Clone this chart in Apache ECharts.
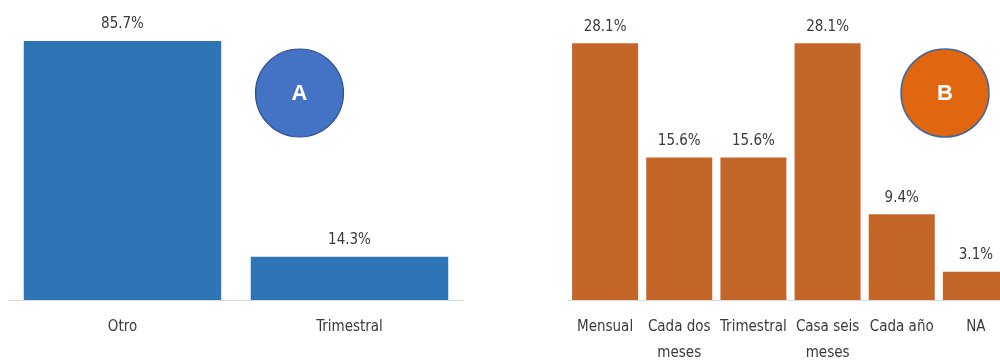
<!DOCTYPE html>
<html>
<head>
<meta charset="utf-8">
<script src="https://cdn.jsdelivr.net/npm/echarts@6/dist/echarts.min.js"></script>
<style>
  html, body { margin: 0; padding: 0; background: #ffffff; }
  #chart { width: 1000px; height: 362px; }
</style>
</head>
<body>
<div id="chart"></div>
<script>
// Panel A: frequency categories and shares (%)
const categoriesA = ['Otro', 'Trimestral'];
const valuesA = [85.7, 14.3];

// Panel B: frequency categories and shares (%)
const categoriesB = ['Mensual', 'Cada dos meses', 'Trimestral', 'Casa seis meses', 'Cada año', 'NA'];
const valuesB = [28.1, 15.6, 15.6, 28.1, 9.4, 3.1];

const FONT = '"Liberation Sans Narrow", "DejaVu Sans Condensed", sans-serif';
const TEXT = '#3a3a3a';

// Long names go on two lines: everything but the last word, then the last word
function wrapName(name) {
  const words = name.split(' ');
  if (words.length < 3) return name;
  return words.slice(0, -1).join(' ') + '\n' + words[words.length - 1];
}

const pct = p => p.value.toFixed(1) + '%';

const chart = echarts.init(document.getElementById('chart'), null, { renderer: 'canvas' });

const xAxisCommon = {
  type: 'category',
  axisTick: { show: false },
  axisLine: { lineStyle: { color: '#d9d9d9', width: 1 } },
  axisLabel: {
    color: TEXT, fontFamily: FONT, fontSize: 15,
    lineHeight: 26, margin: 14, interval: 0,
    formatter: wrapName
  }
};

const yAxisCommon = {
  type: 'value',
  min: 0,
  show: false,
  splitLine: { show: false }
};

const labelCommon = {
  show: true, position: 'top', distance: 9,
  color: TEXT, fontFamily: FONT, fontSize: 15,
  formatter: pct
};

chart.setOption({
  animation: false,
  backgroundColor: '#ffffff',
  grid: [
    { left: 9, width: 454, top: 28, bottom: 62, outerBoundsMode: 'none', containLabel: false },
    // panel B runs a little past the right edge of the page
    { left: 568, width: 445, top: 26, bottom: 62, outerBoundsMode: 'none', containLabel: false }
  ],
  xAxis: [
    Object.assign({ gridIndex: 0, data: categoriesA }, xAxisCommon),
    Object.assign({ gridIndex: 1, data: categoriesB }, xAxisCommon)
  ],
  yAxis: [
    Object.assign({ gridIndex: 0, max: 90 }, yAxisCommon),
    Object.assign({ gridIndex: 1, max: 30 }, yAxisCommon)
  ],
  series: [
    {
      type: 'bar', xAxisIndex: 0, yAxisIndex: 0,
      data: valuesA, barCategoryGap: '13%',
      itemStyle: { color: '#2e75b6' },
      label: labelCommon
    },
    {
      type: 'bar', xAxisIndex: 1, yAxisIndex: 1,
      data: valuesB, barCategoryGap: '11%',
      itemStyle: { color: '#c4652a' },
      label: labelCommon
    }
  ],
  graphic: [
    {
      type: 'circle', shape: { cx: 299.5, cy: 93, r: 44 },
      style: { fill: '#4472c4', stroke: '#2f528f', lineWidth: 1.2 }
    },
    {
      type: 'text', x: 299.5, y: 94,
      style: {
        text: 'A', fill: '#ffffff', font: 'bold 22px "Liberation Sans", Arial, sans-serif',
        align: 'center', verticalAlign: 'middle'
      }
    },
    {
      type: 'circle', shape: { cx: 945, cy: 93, r: 44 },
      style: { fill: '#e0670f', stroke: '#44679c', lineWidth: 1.5 }
    },
    {
      type: 'text', x: 945, y: 94,
      style: {
        text: 'B', fill: '#ffffff', font: 'bold 22px "Liberation Sans", Arial, sans-serif',
        align: 'center', verticalAlign: 'middle'
      }
    }
  ]
});
</script>
</body>
</html>
